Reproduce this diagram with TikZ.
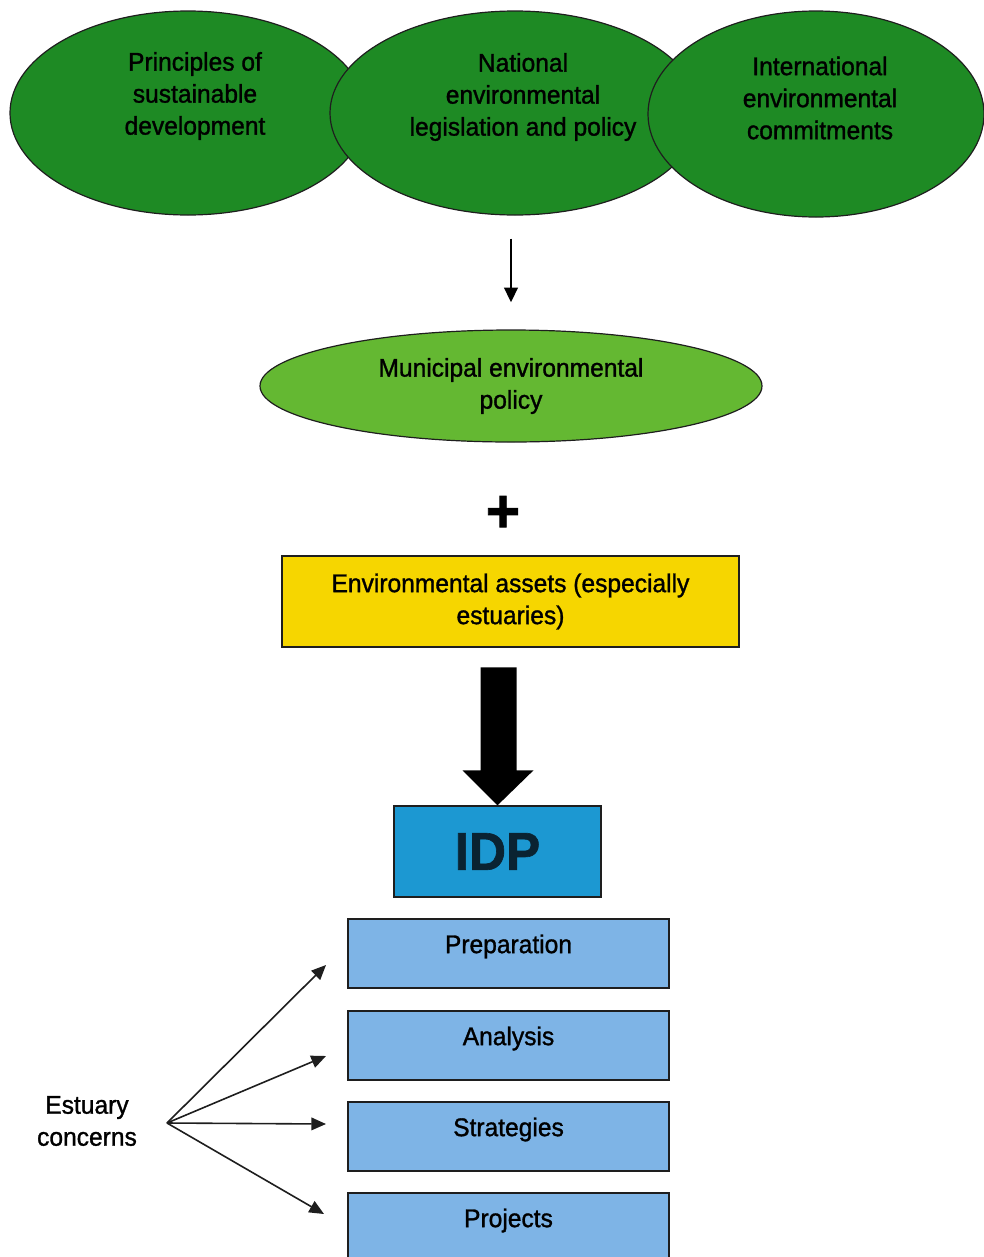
\documentclass[tikz,border=0pt]{standalone}
\usepackage{fontspec}
\setmainfont{Liberation Sans}[FakeBold=1.2,FakeStretch=0.96]
\usetikzlibrary{arrows.meta,shapes.geometric}

\definecolor{deepgreen}{RGB}{30,138,36}
\definecolor{leafgreen}{RGB}{100,184,50}
\definecolor{assetyellow}{RGB}{246,214,0}
\definecolor{idpblue}{RGB}{28,152,210}
\definecolor{stageblue}{RGB}{126,180,230}
\definecolor{outline}{RGB}{30,30,30}

\tikzset{
  body/.style={font=\fontsize{19.2}{24}\selectfont, align=center, text=black},
  bigoval/.style={ellipse, draw=outline, line width=0.9pt, fill=deepgreen, inner sep=0pt},
  midoval/.style={ellipse, draw=outline, line width=0.9pt, fill=leafgreen, inner sep=0pt, body},
  panel/.style={rectangle, draw=outline, line width=1pt, inner sep=0pt, body},
  stagebox/.style={panel, fill=stageblue, minimum width=240.75pt, minimum height=51.75pt},
  thinarrow/.style={draw=black, line width=1.9pt, -{Triangle[length=11pt,width=10pt]}},
  fanarrow/.style={draw=outline, line width=1.2pt, -{Triangle[length=11pt,width=9.5pt]}},
}

\begin{document}
\begin{tikzpicture}[x=0.75pt,y=-0.75pt]
  \useasboundingbox (0,0) rectangle (984,1257);
  \begin{scope}
  \clip (0,0) rectangle (984,1257);

  % three sources of environmental principles
  \node[bigoval, minimum width=267pt, minimum height=153pt] (e1) at (188,113) {};
  \node[bigoval, minimum width=277.5pt, minimum height=153pt] (e2) at (515,113) {};
  \node[bigoval, minimum width=252pt, minimum height=154.5pt] (e3) at (816,114) {};
  \node[body] (t1) at (195,96) {Principles of\\sustainable\\development};
  \node[body] (t2) at (523,97) {National\\environmental\\legislation and policy};
  \node[body] (t3) at (820,98) {International\\environmental\\commitments};

  % municipal policy
  \node[midoval, minimum width=376.5pt, minimum height=84pt] (mun) at (511,386) {Municipal environmental\\policy};
  \draw[thinarrow, shorten <=17.25pt, shorten >=20.25pt] (e2.south -| mun.north) -- (mun.north);

  % plus sign
  \node[font=\fontsize{46}{46}\selectfont\bfseries] (plus) at (503,514) {+};

  % environmental assets
  \node[panel, fill=assetyellow, minimum width=342.75pt, minimum height=68.25pt] (assets) at (510.5,601.5)
    {Environmental assets (especially\\estuaries)};

  % IDP
  \node[panel, fill=idpblue, minimum width=155.25pt, minimum height=68.25pt,
        font=\fontsize{40}{40}\selectfont\bfseries, text={rgb,255:red,10;green,35;blue,50}] (idp) at (497.5,851.5) {IDP};

  % block arrow from assets into the IDP
  \fill[black] (idp.north) -- ++(-35,-35) -- ++(18,0) -- ++(0,-103) -- ++(36,0)
    -- ++(0,103) -- ++(17,0) -- cycle;

  % IDP stages
  \node[stagebox] (s1) at (508.5,953.5) {};
  \node[stagebox] (s2) at (508.5,1045.5) {};
  \node[stagebox] (s3) at (508.5,1136.5) {};
  \node[stagebox] (s4) at (508.5,1227.5) {};
  \node[body, yshift=5.25pt] (l1) at (s1.center) {Preparation};
  \node[body, yshift=5.25pt] (l2) at (s2.center) {Analysis};
  \node[body, yshift=5.25pt] (l3) at (s3.center) {Strategies};
  \node[body, yshift=5.25pt] (l4) at (s4.center) {Projects};

  % estuary concerns feeding every stage
  \node[body] (est) at (87,1121) {Estuary\\concerns};
  \coordinate (eo) at (167,1123);
  \coordinate (a1) at (326,965);
  \coordinate (a2) at (326,1056);
  \coordinate (a3) at (326,1124);
  \coordinate (a4) at (324,1214);
  \foreach \t in {a1,a2,a3,a4} \draw[fanarrow] (eo) -- (\t);
  \end{scope}
\end{tikzpicture}
\end{document}
